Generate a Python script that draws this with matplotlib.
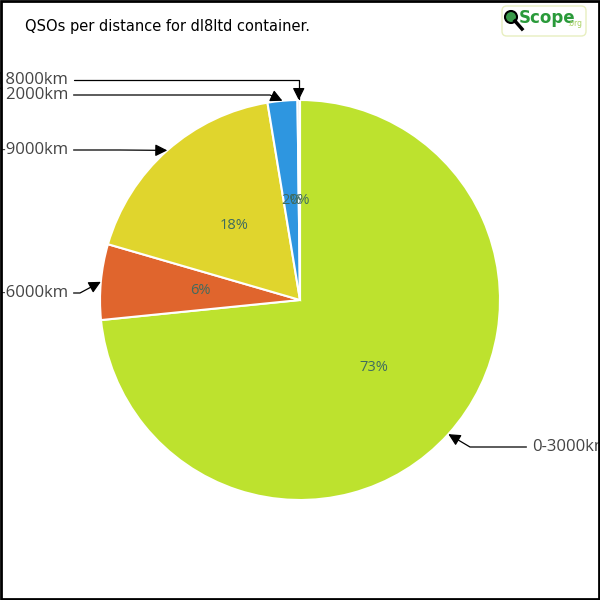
import numpy as np
import matplotlib.pyplot as plt
from matplotlib.patches import FancyBboxPatch, Circle, Rectangle

labels = ["0-3000km", "3000-6000km", "6000-9000km", "9000-12000km", "12000-18000km"]
shares = [73.4, 6.1, 17.9, 2.4, 0.2]
colors = ["#bde22e", "#e0652d", "#e0d52d", "#2e96e0", "#dcdcdc"]

title = "QSOs per distance for dl8ltd container."

fig = plt.figure(figsize=(6, 6), dpi=100)
ax = fig.add_axes([0, 0, 1, 1])

wedges, texts, autotexts = ax.pie(
    shares, colors=colors, startangle=90, counterclock=False,
    autopct="%1.0f%%", pctdistance=0.5, radius=1.0,
    wedgeprops=dict(edgecolor="white", linewidth=1.5),
    textprops=dict(color="#3f6b5f", fontsize=10.5, family="Open Sans"),
)
ax.set_xlim(-1.5, 1.5)
ax.set_ylim(-1.5, 1.5)
ax.set_aspect("equal")
ax.axis("off")

# label layout: (text x, text y, corner x, alignment) in axes data units
layout = [
    (1.16, -0.735, 0.85, "left"),
    (-1.16, 0.035, -1.10, "right"),
    (-1.16, 0.75, -0.90, "right"),
    (-1.16, 1.025, -0.15, "right"),
    (-1.16, 1.10, None, "right"),
]

for w, lab, (tx, ty, cx, ha) in zip(wedges, labels, layout):
    ang = np.deg2rad((w.theta1 + w.theta2) / 2)
    px, py = np.cos(ang), np.sin(ang)
    if cx is None:
        angleB = 90
    elif abs(py - ty) < 1e-3:
        angleB = 0
    else:
        angleB = np.degrees(np.arctan2(py - ty, px - cx))
    ax.annotate(
        lab, xy=(px, py), xytext=(tx, ty), ha=ha, va="center",
        fontsize=12, family="Open Sans", color="#444444",
        arrowprops=dict(arrowstyle="-|>,head_length=0.6,head_width=0.3",
                        color="black", lw=0.9, shrinkA=2, shrinkB=0,
                        connectionstyle=f"angle,angleA=0,angleB={angleB},rad=0"),
    )

fig.text(25 / 600, 1 - 27 / 600, title, fontsize=10.5, family="DejaVu Sans",
         va="center", ha="left", color="black")

# logo
fig.patches.append(FancyBboxPatch((502 / 600, 1 - 36 / 600), 84 / 600, 30 / 600,
                                  boxstyle="round,pad=0,rounding_size=0.008",
                                  transform=fig.transFigure, facecolor="white",
                                  edgecolor="#e8efc0", lw=1))
fig.patches.append(Circle((511 / 600, 1 - 17 / 600), 6 / 600, transform=fig.transFigure,
                          facecolor="#3a9a4a", edgecolor="black", lw=1.5))
fig.lines.append(plt.Line2D([515 / 600, 522 / 600], [1 - 21 / 600, 1 - 29 / 600],
                            transform=fig.transFigure, color="black", lw=2.5))
fig.text(519 / 600, 1 - 18 / 600, "Scope", fontsize=12, color="#2a9a3a",
         family="Liberation Sans Narrow", fontweight="bold", va="center", ha="left")
fig.text(567 / 600, 1 - 24 / 600, ".org", fontsize=5.5, color="#a8d060",
         va="center", ha="left")

# frame
fig.patches.append(Rectangle((0.001, 0.001), 0.997, 0.997, transform=fig.transFigure,
                             fill=False, edgecolor="black", lw=2))

fig.savefig("out.png", dpi=100)
